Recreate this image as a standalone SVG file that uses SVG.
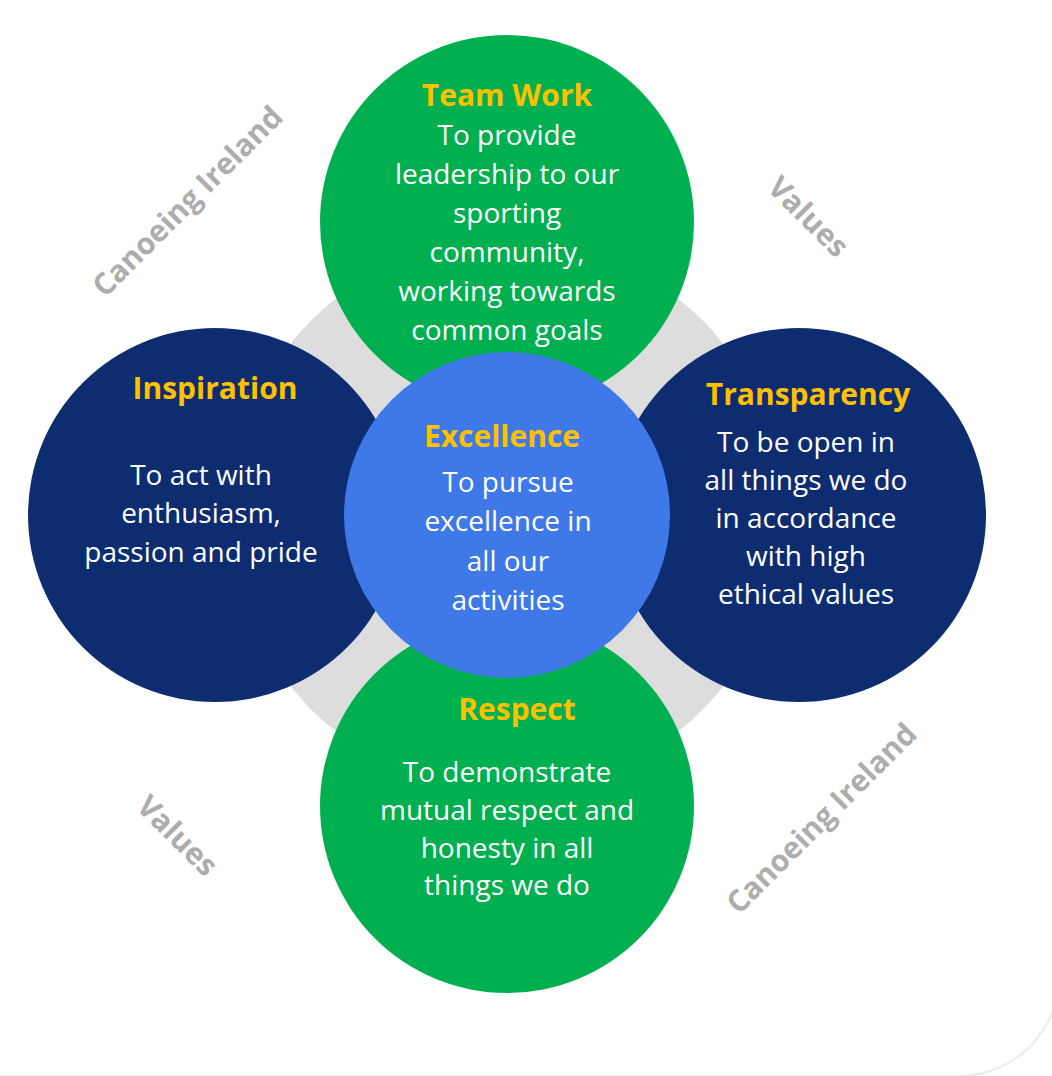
<svg xmlns="http://www.w3.org/2000/svg" width="1052" height="1076" viewBox="0 0 1052 1076">
  <style>
    .title { font-family: "Open Sans", "Liberation Sans", sans-serif; font-weight: 700; font-size: 30px; fill: #FFC000; text-anchor: middle; }
    .body { font-family: "Open Sans", "Liberation Sans", sans-serif; font-size: 28px; fill: #FFFFFF; text-anchor: middle; }
    .mark { font-family: "Open Sans", "Liberation Sans", sans-serif; font-weight: 700; font-size: 30px; fill: #ADADAD; text-anchor: middle; }
    .green { fill: #00B050; }
    .navy { fill: #0E2D70; }
    .core { fill: #3F79E8; }
  </style>

  <rect width="1052" height="1076" fill="#FFFFFF"/>
  <!-- faint card outline; only its rounded lower right corner reaches into view -->
  <rect x="-100" y="-100" width="1159" height="1176" rx="100" fill="none" stroke="#EBEBEB" stroke-width="2"/>

  <!-- background disk tying the circles together -->
  <g id="ring">
    <circle cx="507" cy="515" r="276" fill="#DDDDDD"/>
  </g>

  <!-- corner watermarks -->
  <g id="watermarks">
    <text class="mark" transform="translate(187,201) rotate(-45)" x="0" y="11">Canoeing Ireland</text>
    <text class="mark" transform="translate(821,818) rotate(-45)" x="0" y="11">Canoeing Ireland</text>
    <text class="mark" font-size="29" transform="translate(808,217) rotate(45)" x="0" y="10">Values</text>
    <text class="mark" font-size="29" transform="translate(177,836) rotate(45)" x="0" y="10">Values</text>
  </g>

  <g id="connectors"></g>

  <g id="teamwork">
    <circle class="green" cx="507" cy="222" r="187"/>
    <text class="title" x="507" y="106">Team Work</text>
    <text class="body" x="507" y="145">To provide</text>
    <text class="body" x="507" y="184">leadership to our</text>
    <text class="body" x="507" y="223">sporting</text>
    <text class="body" x="507" y="262">community,</text>
    <text class="body" x="507" y="301">working towards</text>
    <text class="body" x="507" y="340">common goals</text>
  </g>

  <g id="respect">
    <circle class="green" cx="507" cy="806" r="187"/>
    <text class="title" x="517" y="720">Respect</text>
    <text class="body" x="507" y="782">To demonstrate</text>
    <text class="body" x="507" y="820">mutual respect and</text>
    <text class="body" x="507" y="858">honesty in all</text>
    <text class="body" x="507" y="895">things we do</text>
  </g>

  <g id="inspiration">
    <circle class="navy" cx="215" cy="515" r="187"/>
    <text class="title" x="215" y="399">Inspiration</text>
    <text class="body" x="201" y="485">To act with</text>
    <text class="body" x="201" y="523">enthusiasm,</text>
    <text class="body" x="201" y="562">passion and pride</text>
  </g>

  <g id="transparency">
    <circle class="navy" cx="799" cy="515" r="187"/>
    <text class="title" x="808" y="405">Transparency</text>
    <text class="body" x="806" y="452">To be open in</text>
    <text class="body" x="806" y="490">all things we do</text>
    <text class="body" x="806" y="528">in accordance</text>
    <text class="body" x="806" y="566">with high</text>
    <text class="body" x="806" y="604">ethical values</text>
  </g>

  <g id="excellence">
    <circle class="core" cx="507" cy="515" r="163"/>
    <text class="title" x="502" y="447">Excellence</text>
    <text class="body" x="508" y="492">To pursue</text>
    <text class="body" x="508" y="531">excellence in</text>
    <text class="body" x="508" y="571">all our</text>
    <text class="body" x="508" y="610">activities</text>
  </g>
</svg>
